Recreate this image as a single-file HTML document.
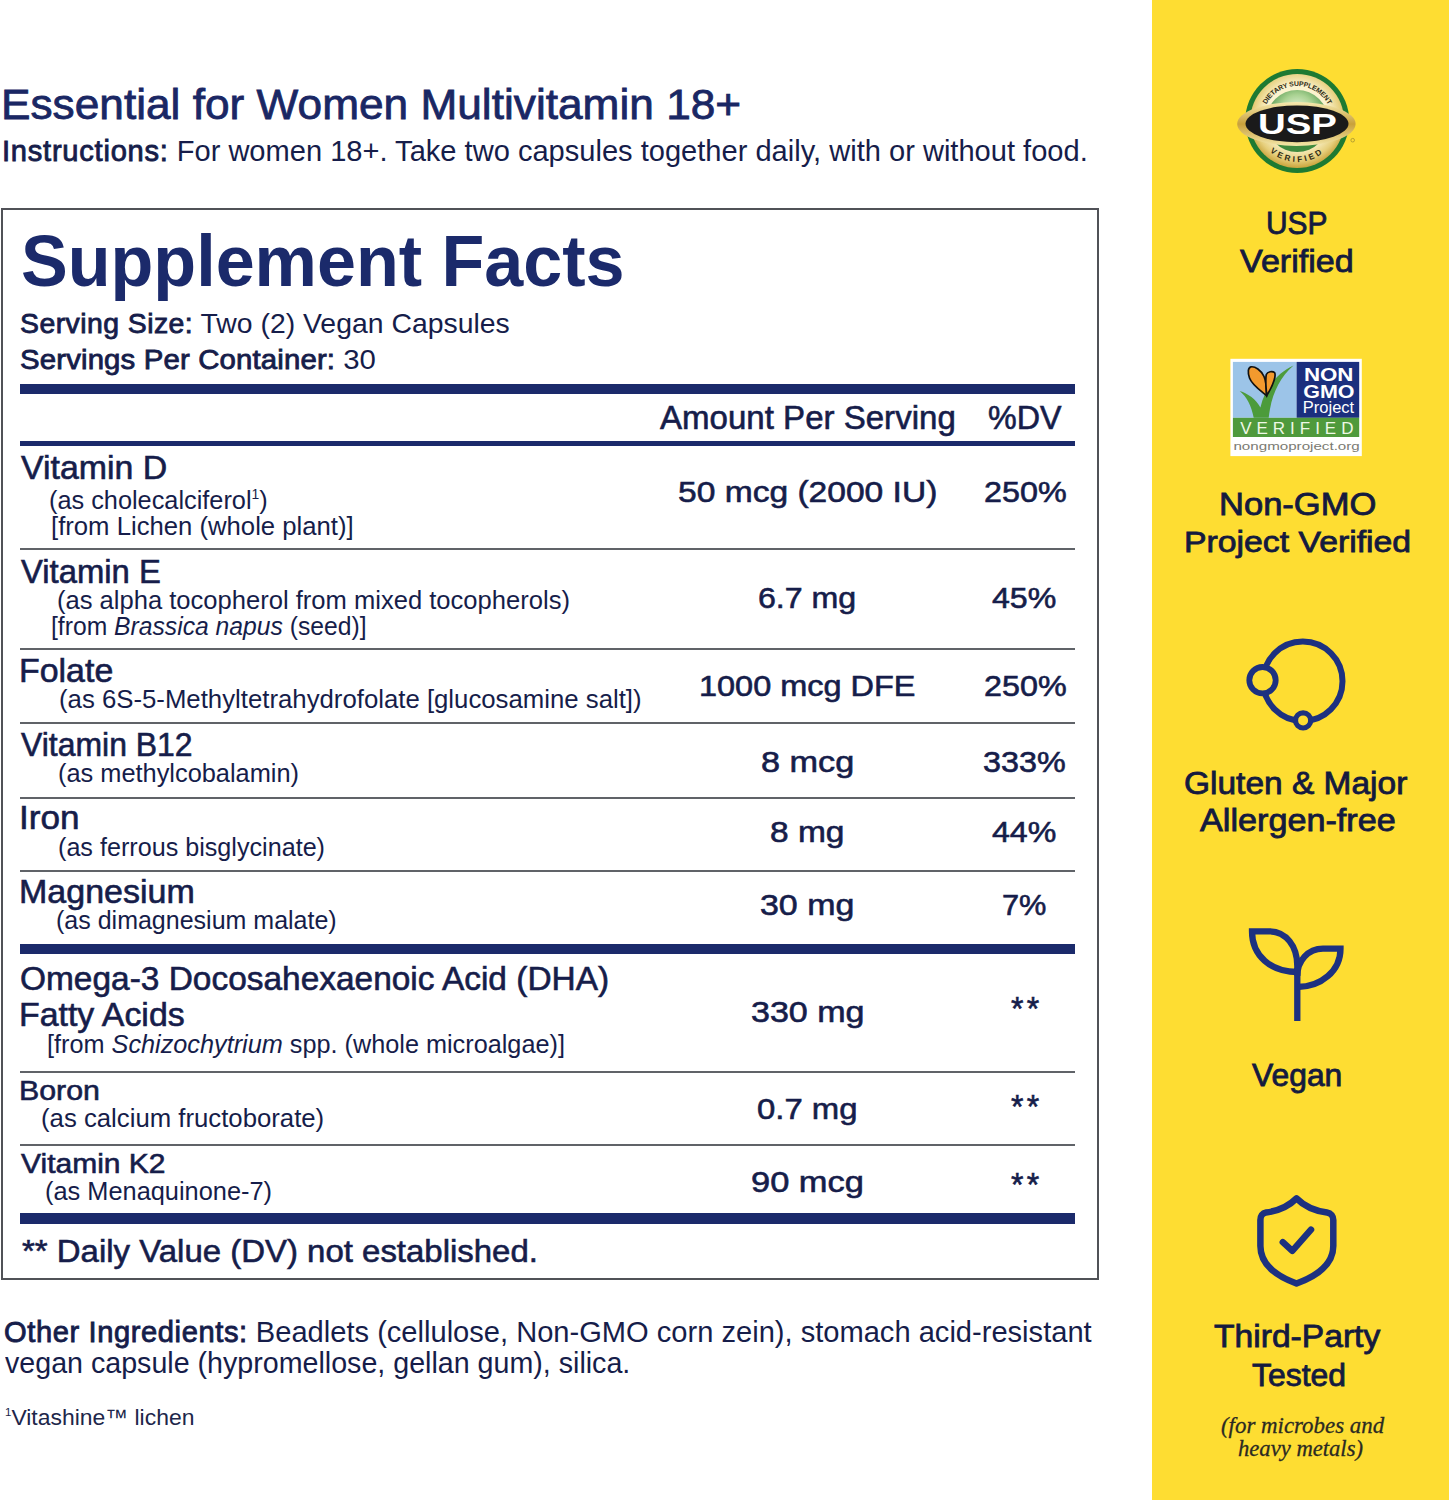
<!DOCTYPE html>
<html><head><meta charset="utf-8"><title>Supplement Facts</title>
<style>
html,body{margin:0;padding:0}
body{width:1449px;height:1500px;position:relative;overflow:hidden;background:#fff}
.panel{position:absolute;left:1152px;top:0;width:297px;height:1500px;background:#fedd32}
.t{transform-origin:0 0;position:absolute;white-space:nowrap;line-height:1;color:#161d4a;font-family:"Liberation Sans",sans-serif}
.r{font-weight:400}
.b{font-weight:700}
.m{font-weight:400;-webkit-text-stroke:0.6px currentColor}
.p{font-weight:400;-webkit-text-stroke:0.8px currentColor;color:#141a3e}
.ti{font-weight:400;-webkit-text-stroke:0.8px currentColor;color:#1a2764}
.sf{font-weight:700;color:#1b2a6b}
.si{font-family:"Liberation Serif",serif;font-style:italic;color:#2b2a22;-webkit-text-stroke:0.3px currentColor}
.t b{font-weight:400;-webkit-text-stroke:0.85px currentColor}
.t sup{font-size:0.55em;vertical-align:0.7em;line-height:0;letter-spacing:0}
.vt{font-weight:400;color:#20264a}
.vt sup{font-size:0.5em;vertical-align:0.8em}

</style></head><body>
<div class="panel"></div>
<div style="position:absolute;left:1px;top:208px;width:1094px;height:1068px;border:2px solid #505257"></div><div style="position:absolute;left:20px;top:384px;width:1055px;height:10px;background:#1b2a6b"></div><div style="position:absolute;left:20px;top:441px;width:1055px;height:5px;background:#1b2a6b"></div><div style="position:absolute;left:20px;top:944px;width:1055px;height:10px;background:#1b2a6b"></div><div style="position:absolute;left:20px;top:1213px;width:1055px;height:11px;background:#1b2a6b"></div><div style="position:absolute;left:20px;top:548px;width:1055px;height:2px;background:#606368"></div><div style="position:absolute;left:20px;top:648px;width:1055px;height:2px;background:#606368"></div><div style="position:absolute;left:20px;top:722px;width:1055px;height:2px;background:#606368"></div><div style="position:absolute;left:20px;top:797px;width:1055px;height:2px;background:#606368"></div><div style="position:absolute;left:20px;top:870px;width:1055px;height:2px;background:#606368"></div><div style="position:absolute;left:20px;top:1071px;width:1055px;height:2px;background:#606368"></div><div style="position:absolute;left:20px;top:1144px;width:1055px;height:2px;background:#606368"></div>
<svg style="position:absolute;left:1230px;top:60px" width="140" height="120" viewBox="0 0 140 120">
<defs>
<radialGradient id="gold" cx="50%" cy="45%" r="55%"><stop offset="0.6" stop-color="#fbf3cf"/><stop offset="0.85" stop-color="#e6cf7c"/><stop offset="1" stop-color="#c9a43c"/></radialGradient>
<radialGradient id="sky" cx="50%" cy="35%" r="55%"><stop offset="0" stop-color="#f4fbe8"/><stop offset="0.5" stop-color="#a9d292"/><stop offset="1" stop-color="#3f8a3e"/></radialGradient>
<linearGradient id="eg" x1="0" y1="0" x2="0" y2="1"><stop offset="0" stop-color="#f6eab0"/><stop offset="0.5" stop-color="#c8a03a"/><stop offset="1" stop-color="#f3e6a8"/></linearGradient>
</defs>
<circle cx="67.2" cy="61" r="52" fill="#1e7a32"/>
<circle cx="67.2" cy="61" r="47" fill="url(#gold)"/>
<circle cx="67.2" cy="61" r="31" fill="url(#sky)"/>
<ellipse cx="66.4" cy="64" rx="59.2" ry="22" fill="url(#eg)"/>
<ellipse cx="67" cy="63.8" rx="51.5" ry="18.4" fill="#1a1a1a"/>
<text x="67.5" y="74.4" text-anchor="middle" font-family="Liberation Sans" font-weight="700" font-size="30" fill="#fff" textLength="79" lengthAdjust="spacingAndGlyphs" style="-webkit-text-stroke:0.8px #fff">USP</text>
<path id="arcTop" d="M32.2 61 A35 35 0 0 1 102.2 61" fill="none"/>
<text font-family="Liberation Sans" font-weight="700" font-size="6.9" fill="#2e2a14" letter-spacing="-0.15"><textPath href="#arcTop" startOffset="50%" text-anchor="middle">DIETARY SUPPLEMENT</textPath></text>
<path id="arcBot" d="M26.2 61 A41 41 0 0 0 108.2 61" fill="none"/>
<text font-family="Liberation Sans" font-weight="700" font-size="8.2" fill="#2e2a14" letter-spacing="2.7"><textPath href="#arcBot" startOffset="50%" text-anchor="middle">VERIFIED</textPath></text>
<circle cx="122.7" cy="80.2" r="1.8" fill="none" stroke="#8a7a30" stroke-width="0.6"/>
</svg>
<svg style="position:absolute;left:1220px;top:350px" width="150" height="115" viewBox="0 0 150 115">
<rect x="10.4" y="8.8" width="131.4" height="97.3" fill="#fff"/>
<rect x="12.9" y="11.9" width="63.7" height="55.9" fill="#9cc4e8"/>
<rect x="76.6" y="11.9" width="62.6" height="55.9" fill="#1b2f7e"/>
<rect x="12.9" y="67.8" width="126.3" height="19.2" fill="#4f9a3c"/>
<path d="M19.7 40.9 C27 47 31.5 56 33.7 67.8 L48.7 67.8 C51 46 59 28 73.5 15.5 C57 23 45 38 40.4 57.5 C36 49 28 43.5 19.7 40.9 Z" fill="#4c9b3b"/>


<path d="M46.5 45.5 C41 41 32 35 29.5 28 C27.5 22 28 17.5 31 16.8 C35 16.2 41 20 44 26.5 C46 31 46.5 38 46.5 45.5 Z" fill="#f39a2e" stroke="#111" stroke-width="1.7"/>
<path d="M46.8 45.5 C46 38 45.3 29 46.3 24.5 C47.5 21.5 52.5 20.8 54.6 22.6 C56 25 54.5 33 46.8 45.5 Z" fill="#f39a2e" stroke="#111" stroke-width="1.7"/>
<text x="108.7" y="31.1" text-anchor="middle" font-family="Liberation Sans" font-weight="700" font-size="18.9" fill="#fff" textLength="49.6" lengthAdjust="spacingAndGlyphs">NON</text>
<text x="108.9" y="48.1" text-anchor="middle" font-family="Liberation Sans" font-weight="700" font-size="18.9" fill="#fff" textLength="51.3" lengthAdjust="spacingAndGlyphs">GMO</text>
<text x="108.5" y="63.1" text-anchor="middle" font-family="Liberation Sans" font-weight="400" font-size="16" fill="#fff" textLength="51.3" lengthAdjust="spacingAndGlyphs" style="-webkit-text-stroke:0.9px #fff">Project</text>
<text x="76.8" y="84.4" text-anchor="middle" font-family="Liberation Sans" font-weight="400" font-size="17" fill="#eef8e6" textLength="113.3" lengthAdjust="spacing" style="-webkit-text-stroke:0.4px #eef8e6">VERIFIED</text>
<text x="76.6" y="99.9" text-anchor="middle" font-family="Liberation Sans" font-weight="400" font-size="11.3" fill="#7a7a72" textLength="126.3" lengthAdjust="spacingAndGlyphs">nongmoproject.org</text>
</svg>
<svg style="position:absolute;left:1236px;top:626px" width="120" height="120" viewBox="0 0 120 120">
<circle cx="66.8" cy="55.3" r="39.7" fill="none" stroke="#1d3180" stroke-width="6"/>
<circle cx="26.5" cy="54.2" r="13.2" fill="#fedd32" stroke="#1d3180" stroke-width="5.8"/>
<circle cx="67.1" cy="94.4" r="7.6" fill="#fedd32" stroke="#1d3180" stroke-width="5.2"/>
</svg>
<svg style="position:absolute;left:1236px;top:916px" width="120" height="120" viewBox="0 0 120 120">
<path d="M61.3 105 L61.3 50 C61.3 30 50 15.3 33 15.3 L16 15.3 C16 40 35 56 61.3 56" fill="none" stroke="#1d3180" stroke-width="6.3" stroke-linejoin="miter"/>
<path d="M61.3 71 C85 71 104.5 55 104.5 32.7 L87 32.7 C72 32.7 61.3 45 61.3 60" fill="none" stroke="#1d3180" stroke-width="6.3" stroke-linejoin="miter"/>
</svg>
<svg style="position:absolute;left:1236px;top:1180px" width="120" height="120" viewBox="0 0 120 120">
<path d="M60.5 18.4 C52 27 42 31 30 32.5 C26.5 33 24.4 36 24.4 40 L24.4 66 C24.4 84 40 96 60.5 103.5 C81 96 97.3 84 97.3 66 L97.3 40 C97.3 36 95 33 91 32.5 C79 31 69 27 60.5 18.4 Z" fill="none" stroke="#1d3180" stroke-width="6.5" stroke-linejoin="round"/>
<path d="M46.8 62.1 L56.3 70.8 L75 49.7" fill="none" stroke="#1d3180" stroke-width="6.5" stroke-linecap="round" stroke-linejoin="round"/>
</svg>

<div class="t ti" style="left:0.9px;top:82.6px;font-size:42.84px;letter-spacing:0.000px;transform:scaleX(1.0325)">Essential for Women Multivitamin 18+</div><div class="t r" style="left:2.1px;top:137.0px;font-size:28.60px;letter-spacing:0.000px;transform:scaleX(1.0166)"><b style="letter-spacing:0.75px">Instructions:</b> For women 18+. Take two capsules together daily, with or without food.</div><div class="t sf" style="left:21.2px;top:226.0px;font-size:71.86px;letter-spacing:0.000px;transform:scaleX(0.9752)">Supplement Facts</div><div class="t r" style="left:20.0px;top:310.3px;font-size:27.91px;letter-spacing:0.000px;transform:scaleX(1.0169)"><b style="letter-spacing:0.45px">Serving Size:</b> Two (2) Vegan Capsules</div><div class="t r" style="left:20.0px;top:345.7px;font-size:27.91px;letter-spacing:0.000px;transform:scaleX(1.0514)"><b style="letter-spacing:0.15px">Servings Per Container:</b> 30</div><div class="t m" style="left:660.4px;top:401.5px;font-size:32.79px;letter-spacing:0.000px;transform:scaleX(1.0082)">Amount Per Serving</div><div class="t m" style="left:988.2px;top:401.5px;font-size:32.79px;letter-spacing:0.000px;transform:scaleX(0.9838)">%DV</div><div class="t m" style="left:21.2px;top:452.3px;font-size:32.51px;letter-spacing:0.000px;transform:scaleX(1.0417)">Vitamin D</div><div class="t r" style="left:49.2px;top:487.7px;font-size:25.00px;letter-spacing:0.000px;transform:scaleX(1.0122)">(as cholecalciferol<sup>1</sup>)</div><div class="t r" style="left:50.7px;top:514.0px;font-size:25.00px;letter-spacing:0.000px;transform:scaleX(1.0275)">[from Lichen (whole plant)]</div><div class="t m" style="left:677.7px;top:476.8px;font-size:30.00px;letter-spacing:0.000px;transform:scaleX(1.1191)">50 mcg (2000 IU)</div><div class="t m" style="left:983.6px;top:476.8px;font-size:30.00px;letter-spacing:0.000px;transform:scaleX(1.0774)">250%</div><div class="t m" style="left:21.2px;top:555.7px;font-size:32.51px;letter-spacing:0.000px;transform:scaleX(1.0101)">Vitamin E</div><div class="t r" style="left:56.8px;top:587.7px;font-size:25.00px;letter-spacing:0.000px;transform:scaleX(1.0225)">(as alpha tocopherol from mixed tocopherols)</div><div class="t r" style="left:50.8px;top:614.3px;font-size:25.00px;letter-spacing:0.000px;transform:scaleX(0.9873)">[from <i>Brassica napus</i> (seed)]</div><div class="t m" style="left:757.7px;top:583.0px;font-size:30.00px;letter-spacing:0.000px;transform:scaleX(1.0712)">6.7 mg</div><div class="t m" style="left:992.2px;top:583.0px;font-size:30.00px;letter-spacing:0.000px;transform:scaleX(1.0712)">45%</div><div class="t m" style="left:19.1px;top:655.0px;font-size:32.51px;letter-spacing:0.000px;transform:scaleX(1.0437)">Folate</div><div class="t r" style="left:58.7px;top:687.0px;font-size:25.00px;letter-spacing:0.000px;transform:scaleX(1.0302)">(as 6S-5-Methyltetrahydrofolate [glucosamine salt])</div><div class="t m" style="left:698.7px;top:670.7px;font-size:30.00px;letter-spacing:0.000px;transform:scaleX(1.0818)">1000 mcg DFE</div><div class="t m" style="left:983.6px;top:670.7px;font-size:30.00px;letter-spacing:0.000px;transform:scaleX(1.0774)">250%</div><div class="t m" style="left:21.2px;top:728.7px;font-size:32.51px;letter-spacing:0.000px;transform:scaleX(0.9827)">Vitamin B12</div><div class="t r" style="left:58.0px;top:760.7px;font-size:25.00px;letter-spacing:0.000px;transform:scaleX(1.0145)">(as methylcobalamin)</div><div class="t m" style="left:761.1px;top:747.0px;font-size:30.00px;letter-spacing:0.000px;transform:scaleX(1.1418)">8 mcg</div><div class="t m" style="left:983.0px;top:747.0px;font-size:30.00px;letter-spacing:0.000px;transform:scaleX(1.0774)">333%</div><div class="t m" style="left:18.8px;top:802.0px;font-size:32.51px;letter-spacing:0.000px;transform:scaleX(1.0810)">Iron</div><div class="t r" style="left:58.0px;top:834.7px;font-size:25.00px;letter-spacing:0.000px;transform:scaleX(1.0061)">(as ferrous bisglycinate)</div><div class="t m" style="left:770.1px;top:817.2px;font-size:30.00px;letter-spacing:0.000px;transform:scaleX(1.1158)">8 mg</div><div class="t m" style="left:992.2px;top:817.2px;font-size:30.00px;letter-spacing:0.000px;transform:scaleX(1.0712)">44%</div><div class="t m" style="left:19.1px;top:875.7px;font-size:32.51px;letter-spacing:0.000px;transform:scaleX(1.0463)">Magnesium</div><div class="t r" style="left:56.0px;top:907.7px;font-size:25.00px;letter-spacing:0.000px;transform:scaleX(1.0000)">(as dimagnesium malate)</div><div class="t m" style="left:759.6px;top:890.4px;font-size:30.00px;letter-spacing:0.000px;transform:scaleX(1.1309)">30 mg</div><div class="t m" style="left:1002.1px;top:890.4px;font-size:30.00px;letter-spacing:0.000px;transform:scaleX(1.0241)">7%</div><div class="t m" style="left:20.2px;top:963.0px;font-size:32.51px;letter-spacing:0.000px;transform:scaleX(1.0288)">Omega-3 Docosahexaenoic Acid (DHA)</div><div class="t m" style="left:19.1px;top:999.0px;font-size:32.51px;letter-spacing:0.000px;transform:scaleX(1.0423)">Fatty Acids</div><div class="t r" style="left:46.8px;top:1031.7px;font-size:25.00px;letter-spacing:0.000px;transform:scaleX(1.0102)">[from <i>Schizochytrium</i> spp. (whole microalgae)]</div><div class="t m" style="left:750.8px;top:996.7px;font-size:30.00px;letter-spacing:0.000px;transform:scaleX(1.1347)">330 mg</div><div class="t m" style="left:1011.1px;top:992.3px;font-size:33.50px;letter-spacing:0.000px;transform:scaleX(0.9550)">*<span style="padding-left:3.5px"></span>*</div><div class="t m" style="left:19.0px;top:1077.0px;font-size:27.91px;letter-spacing:0.000px;transform:scaleX(1.0874)">Boron</div><div class="t r" style="left:40.7px;top:1105.7px;font-size:25.00px;letter-spacing:0.000px;transform:scaleX(1.0294)">(as calcium fructoborate)</div><div class="t m" style="left:756.6px;top:1093.8px;font-size:30.00px;letter-spacing:0.000px;transform:scaleX(1.0956)">0.7 mg</div><div class="t m" style="left:1011.1px;top:1089.7px;font-size:33.50px;letter-spacing:0.000px;transform:scaleX(0.9550)">*<span style="padding-left:3.5px"></span>*</div><div class="t m" style="left:21.2px;top:1150.3px;font-size:27.91px;letter-spacing:0.000px;transform:scaleX(1.0752)">Vitamin K2</div><div class="t r" style="left:44.8px;top:1179.0px;font-size:25.00px;letter-spacing:0.000px;transform:scaleX(1.0146)">(as Menaquinone-7)</div><div class="t m" style="left:750.8px;top:1167.0px;font-size:30.00px;letter-spacing:0.000px;transform:scaleX(1.1479)">90 mcg</div><div class="t m" style="left:1011.1px;top:1168.4px;font-size:33.50px;letter-spacing:0.000px;transform:scaleX(0.9550)">*<span style="padding-left:3.5px"></span>*</div><div class="t m" style="left:22.0px;top:1236.0px;font-size:31.67px;letter-spacing:0.000px;transform:scaleX(1.0410)">** Daily Value (DV) not established.</div><div class="t r" style="left:3.8px;top:1318.0px;font-size:28.74px;letter-spacing:0.000px;transform:scaleX(1.0123)"><b style="letter-spacing:0.6px">Other Ingredients:</b> Beadlets (cellulose, Non-GMO corn zein), stomach acid-resistant</div><div class="t r" style="left:5.0px;top:1349.4px;font-size:28.74px;letter-spacing:0.000px;transform:scaleX(0.9962)">vegan capsule (hypromellose, gellan gum), silica.</div><div class="t vt" style="left:4.6px;top:1406.9px;font-size:22.05px;letter-spacing:0.000px;transform:scaleX(1.0393)"><sup>1</sup>Vitashine&trade; lichen</div><div class="t p" style="left:1266.3px;top:207.8px;font-size:30.98px;letter-spacing:0.000px;transform:scaleX(0.9667)">USP</div><div class="t p" style="left:1239.6px;top:245.5px;font-size:30.98px;letter-spacing:0.000px;transform:scaleX(1.1020)">Verified</div><div class="t p" style="left:1219.1px;top:489.7px;font-size:30.70px;letter-spacing:0.000px;transform:scaleX(1.1256)">Non-GMO</div><div class="t p" style="left:1184.4px;top:526.9px;font-size:29.86px;letter-spacing:0.000px;transform:scaleX(1.1310)">Project Verified</div><div class="t p" style="left:1183.6px;top:769.0px;font-size:30.70px;letter-spacing:0.000px;transform:scaleX(1.0912)">Gluten &amp; Major</div><div class="t p" style="left:1199.6px;top:806.1px;font-size:30.70px;letter-spacing:0.000px;transform:scaleX(1.1143)">Allergen-free</div><div class="t p" style="left:1251.7px;top:1060.7px;font-size:30.70px;letter-spacing:0.000px;transform:scaleX(1.0373)">Vegan</div><div class="t p" style="left:1213.5px;top:1322.1px;font-size:30.70px;letter-spacing:0.000px;transform:scaleX(1.0954)">Third-Party</div><div class="t p" style="left:1252.1px;top:1360.6px;font-size:30.70px;letter-spacing:0.000px;transform:scaleX(1.0405)">Tested</div><div class="t si" style="left:1220.5px;top:1415.2px;font-size:22.88px;letter-spacing:0.000px;transform:scaleX(1.0001)">(for microbes and</div><div class="t si" style="left:1238.0px;top:1437.5px;font-size:22.88px;letter-spacing:0.000px;transform:scaleX(0.9888)">heavy metals)</div>
</body></html>
